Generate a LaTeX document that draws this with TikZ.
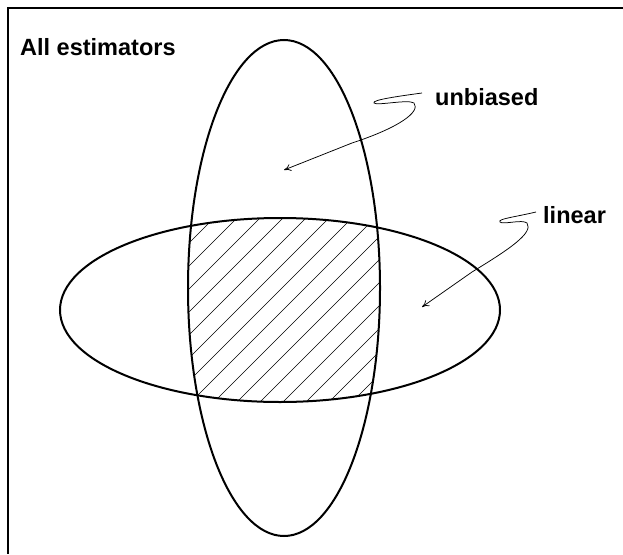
\documentclass[tikz,border=0pt]{standalone}
\usepackage{fontspec}
\setmainfont{Liberation Sans}
\usetikzlibrary{arrows.meta,shapes.geometric}
\tikzset{
  frameline/.style={line width=2pt},
  setline/.style={line width=2pt},
  hatchline/.style={line width=0.55pt},
  pointer/.style={line width=0.75pt,-{To[length=7pt,width=7pt]}},
  lbl/.style={font=\fontsize{23.5}{27}\selectfont\bfseries, inner sep=0pt, anchor=base west}
}
\begin{document}
\begin{tikzpicture}[x=1pt,y=-1pt]
\useasboundingbox (0,0) rectangle (623,554);
% frame (top and left sides only)
\coordinate (fTR) at (623,8);
\coordinate (fTL) at (8,8);
\coordinate (fBL) at (8,554);
\draw[frameline] (fTR) -- (fTL) -- (fBL);
\node[lbl] (all) at (20,55) {All estimators};
% hatch in intersection
\begin{scope}
  \clip (284,288) ellipse [x radius=96, y radius=248];
  \clip (280,310) ellipse [x radius=220, y radius=92];
  \foreach \k in {-2,...,17} {
    \pgfmathsetmacro{\c}{432+23*\k}
    \draw[hatchline] (\c-420,420) -- (\c-200,200);
  }
\end{scope}
% ellipses
\node[setline, draw, ellipse, minimum width=192, minimum height=496, inner sep=0pt] (unb) at (284,288) {};
\node[setline, draw, ellipse, minimum width=440, minimum height=184, inner sep=0pt] (lin) at (280,310) {};
% labels
\node[lbl] (tu) at (435,105) {unbiased};
\node[lbl] (tl) at (543,223) {linear};
% pointers
\coordinate (u0) at (422,93);
\coordinate (u1) at (374,103);
\coordinate (u2) at (414,103);
\coordinate (u3) at (352,143);
\coordinate (u4) at (284,170);
\draw[pointer] (u0) .. controls (400,96) and (371,100) .. (u1)
  .. controls (377,106) and (408,99) .. (u2)
  .. controls (421,112) and (398,128) .. (u3) -- (u4);
\coordinate (l0) at (536,212);
\coordinate (l1) at (500,222);
\coordinate (l2) at (527,223);
\coordinate (l3) at (472,272);
\coordinate (l4) at (422,307);
\draw[pointer] (l0) .. controls (515,217) and (497,219) .. (l1)
  .. controls (503,225) and (522,219) .. (l2)
  .. controls (534,233) and (508,250) .. (l3) -- (l4);
\end{tikzpicture}
\end{document}
